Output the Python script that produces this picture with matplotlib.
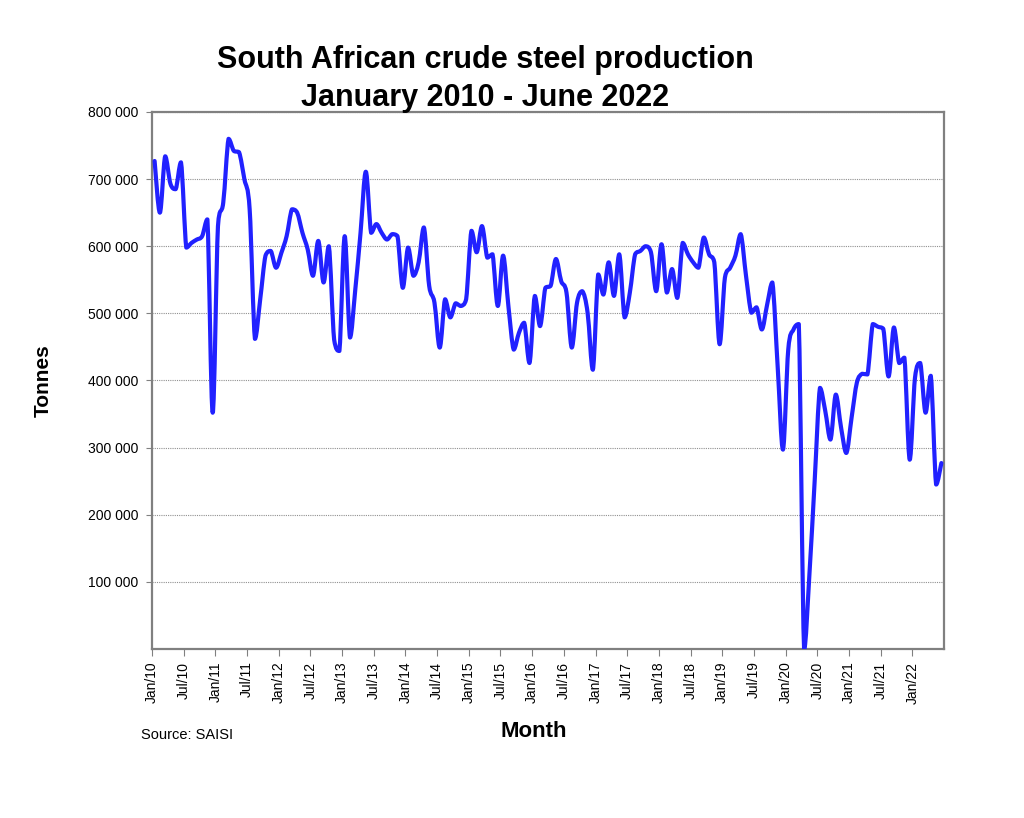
"""South African crude steel production, monthly 2010-2022
"""
import numpy as np
import pandas as pd
import matplotlib
matplotlib.use("Agg")
import matplotlib.pyplot as plt
from matplotlib.path import Path
from matplotlib.patches import PathPatch
from matplotlib.ticker import FuncFormatter

plt.rcParams['font.family'] = ['Liberation Sans', 'DejaVu Sans']

# monthly output in thousand tonnes, Jan 2010 .. Jun 2022
kt_2010_2011 = [727, 650, 734, 693, 685, 725, 598, 605, 610, 615, 640, 352,
                630, 665, 760, 742, 740, 700, 655, 462, 521, 586, 593, 568]
kt_2012_2013 = [590, 615, 655, 650, 620, 595, 556, 608, 546, 600, 461, 444,
                615, 464, 535, 620, 711, 620, 633, 620, 610, 618, 615, 538]
kt_2014_2015 = [598, 556, 576, 628, 541, 516, 449, 521, 494, 515, 511, 521,
                623, 591, 630, 583, 588, 511, 586, 511, 446, 471, 486, 426]
kt_2016_2017 = [526, 481, 538, 541, 581, 548, 531, 449, 516, 533, 501, 416,
                558, 528, 576, 526, 588, 494, 531, 588, 593, 600, 591, 533]
kt_2018_2019 = [603, 531, 566, 523, 605, 588, 576, 568, 613, 588, 576, 454,
                553, 568, 586, 618, 556, 501, 509, 476, 513, 546, 420, 297]
kt_2020_2021 = [446, 476, 484, 0, 110, 250, 389, 355, 312, 379, 330, 292,
                345, 397, 410, 409, 484, 480, 477, 406, 479, 426, 434, 282]
kt_2022 = [404, 426, 352, 407, 245, 277]

tonnes = np.array(kt_2010_2011 + kt_2012_2013 + kt_2014_2015 + kt_2016_2017
                  + kt_2018_2019 + kt_2020_2021 + kt_2022) * 1000
months = pd.date_range('2010-01-01', periods=len(tonnes), freq='MS')
tick_idx = list(range(0, len(tonnes), 6))
tick_labels = [months[i].strftime('%b/%y') for i in tick_idx]
y_ticks = [100000, 200000, 300000, 400000, 500000, 600000, 700000, 800000]


def smooth_path(xs, ys):
    """Bezier path through every point, like a spreadsheet 'smoothed line'.
    Control points are kept inside each segment's y range (no overshoot)."""
    pts = np.column_stack([xs, ys]).astype(float)
    padded = np.vstack([pts[:1], pts, pts[-1:]])
    tang = (padded[2:] - padded[:-2]) / 6.0
    verts = [pts[0]]
    for i in range(len(pts) - 1):
        lo = min(pts[i, 1], pts[i + 1, 1])
        hi = max(pts[i, 1], pts[i + 1, 1])
        c1 = pts[i] + tang[i]
        c2 = pts[i + 1] - tang[i + 1]
        c1[1] = np.clip(c1[1], lo, hi)
        c2[1] = np.clip(c2[1], lo, hi)
        verts += [c1, c2, pts[i + 1]]
    codes = [Path.MOVETO] + [Path.CURVE4] * (3 * (len(pts) - 1))
    return Path(verts, codes)


fig = plt.figure(figsize=(10.24, 8.18), dpi=100)
ax = fig.add_axes([0.1484, 0.2066, 0.7735, 0.6565])

# points sit in the middle of each month slot
x_vals = np.arange(len(tonnes)) + 0.5
line = PathPatch(smooth_path(x_vals, tonnes), facecolor='none',
                 edgecolor='#2121FF', linewidth=3.0, joinstyle='round',
                 capstyle='round', zorder=3)
ax.add_patch(line)

ax.set_xlim(0, len(tonnes))
ax.set_ylim(0, 800000)
ax.set_xticks(tick_idx)
ax.set_xticklabels(tick_labels, rotation=90, fontsize=10)
ax.set_yticks(y_ticks)
ax.yaxis.set_major_formatter(
    FuncFormatter(lambda v, p: f"{int(v):,}".replace(',', ' ')))
ax.tick_params(axis='y', labelsize=10, length=4, color='#808080', pad=6)
ax.tick_params(axis='x', length=5, color='#808080', pad=4)
ax.grid(axis='y', color='#909090', linestyle=(0, (1, 1)), linewidth=0.8)

for sp in ax.spines.values():
    sp.set_color('#808080')
    sp.set_linewidth(1.6)

ax.set_ylabel('Tonnes', fontsize=15, fontweight='bold')
ax.yaxis.set_label_coords(-0.125, 0.5)
ax.set_xlabel('Month', fontsize=16, fontweight='bold')
ax.xaxis.set_label_coords(0.482, -0.135)

fig.text(0.474, 0.927, 'South African crude steel production',
         ha='center', va='center', fontsize=22, fontweight='bold')
fig.text(0.474, 0.880, 'January 2010 - June 2022',
         ha='center', va='center', fontsize=22, fontweight='bold')
fig.text(0.138, 0.102, 'Source: SAISI', ha='left', va='center', fontsize=10.5)

fig.savefig('out.png', dpi=100)
